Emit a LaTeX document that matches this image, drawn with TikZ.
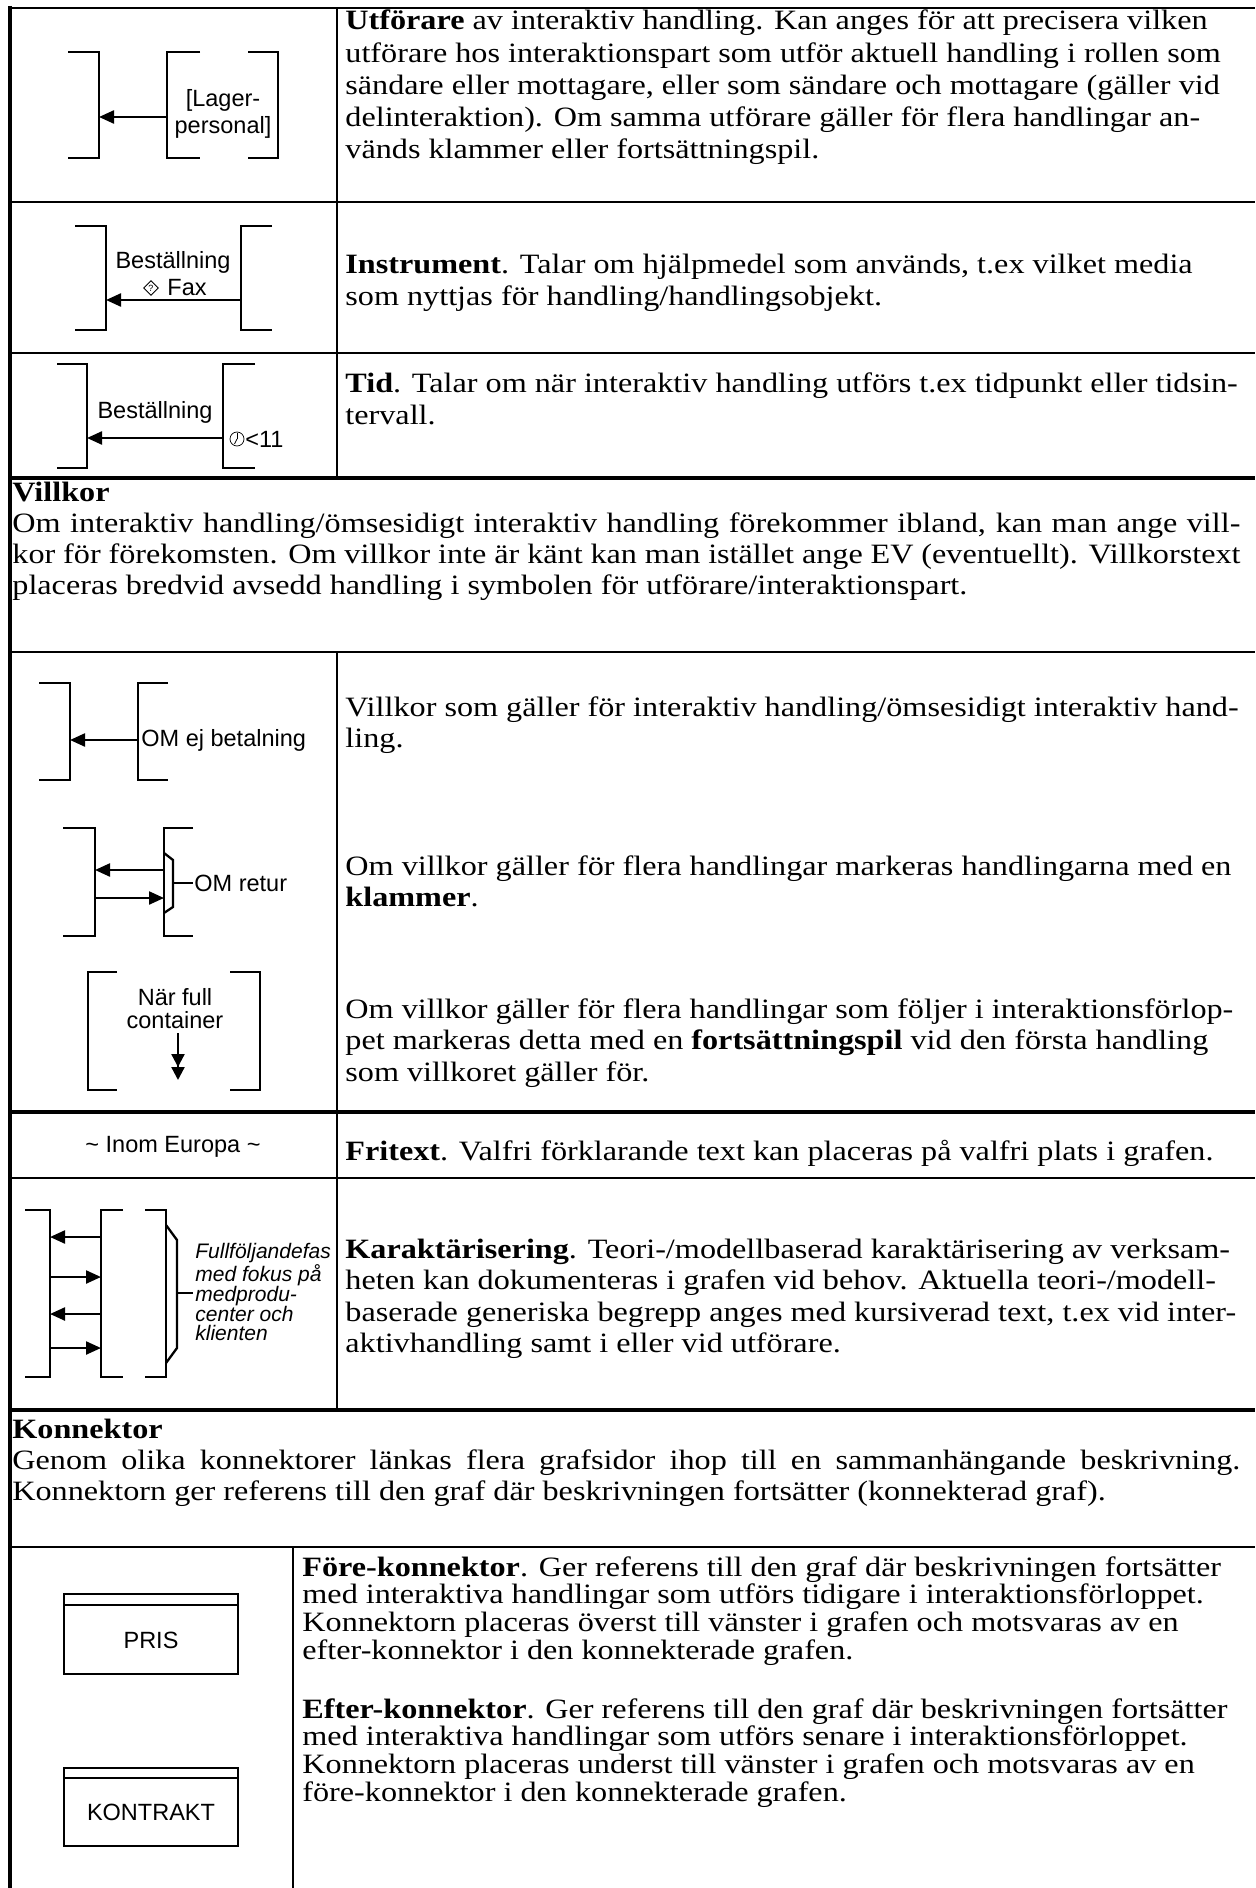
\documentclass[tikz,border=0pt]{standalone}
\usepackage{fontspec}
\setmainfont{Liberation Serif}[FakeStretch=1.15]
\setsansfont{Liberation Sans}
\usepackage{tikz}
\usetikzlibrary{arrows.meta}
\usetikzlibrary{shapes.geometric}
\newcommand{\rader}[1]{\begin{tabular}[t]{@{}l@{}}#1\end{tabular}}
\newcommand{\fylld}[1]{\makebox[614pt][s]{#1}}
\tikzstyle{grid}=[line width=0.8pt]
\tikzstyle{heavy}=[line width=2pt]
\tikzstyle{brk}=[line width=1.15pt]
\tikzstyle{arrow}=[brk,-{Triangle[length=7.5pt,width=6.5pt]}]
\tikzstyle{dblarrow}=[brk,-{Triangle[length=6.5pt,width=6.5pt]Triangle[length=6.5pt,width=6.5pt]}]
\tikzstyle{txt}=[inner sep=0,anchor=base west,font=\fontsize{14pt}{15.75pt}\selectfont]
\tikzstyle{head}=[txt,font=\fontsize{14pt}{15.5pt}\selectfont]
\tikzstyle{small}=[txt,font=\fontsize{14pt}{13.75pt}\selectfont]
\tikzstyle{lbl}=[inner sep=0,font=\sffamily\fontsize{11.75pt}{13pt}\selectfont]
\tikzstyle{konn}=[draw,line width=0.75pt]

\begin{document}
\begin{tikzpicture}[x=0.5pt,y=-0.5pt]
  \useasboundingbox (0,0) rectangle (1255,1888);
  % tabellramar
  \draw[heavy] (10,6) -- (10,1888);
  \draw[line width=1.3pt] (8,8) -- (1255,8);
  \draw[grid] (10,202) -- (1255,202);
  \draw[grid] (10,353) -- (1255,353);
  \draw[heavy] (8,478) -- (1255,478);
  \draw[grid] (10,652) -- (1255,652);
  \draw[heavy] (8,1112) -- (1255,1112);
  \draw[grid] (10,1178) -- (1255,1178);
  \draw[heavy] (8,1410) -- (1255,1410);
  \draw[grid] (10,1547) -- (1255,1547);
  \draw[grid] (337,8) -- (337,478);
  \draw[grid] (337,652) -- (337,1410);
  \draw[grid] (293,1547) -- (293,1888);

  % utfoerare
  \draw[brk] (68,52) -- (99,52) -- (99,158) -- (68,158);
  \draw[brk] (200,52) -- (167,52) -- (167,158) -- (200,158);
  \draw[brk] (248,52) -- (278,52) -- (278,158) -- (248,158);
  \coordinate (ut-s) at (167,117);
  \coordinate (ut-m) at (99,117);
  \draw[arrow] (ut-s) -- (ut-m);
  \node[lbl] (lager) at (223,100) {[Lager-};
  \node[lbl] (personal) at (223,127) {personal]};
  \node[txt,font=\fontsize{14pt}{16.1pt}\selectfont] (utforare) at (345,30) {\rader{\textbf{Utförare} av interaktiv handling. Kan anges för att precisera vilken\\
    utförare hos interaktionspart som utför aktuell handling i rollen som\\
    sändare eller mottagare, eller som sändare och mottagare (gäller vid\\
    delinteraktion). Om samma utförare gäller för flera handlingar an-\\
    vänds klammer eller fortsättningspil.}};

  % instrument
  \draw[brk] (75,226) -- (106,226) -- (106,330) -- (75,330);
  \draw[brk] (272,226) -- (241,226) -- (241,330) -- (272,330);
  \coordinate (in-s) at (241,300);
  \coordinate (in-m) at (106,300);
  \draw[arrow] (in-s) -- (in-m);
  \node[lbl] (best1) at (173,262) {Beställning};
  \node[diamond,draw,line width=0.45pt,inner sep=0,minimum size=7.5pt,
    font=\sffamily\fontsize{4.5pt}{5pt}\selectfont] (fraga) at (151,288) {?};
  \node[lbl] (fax) at (187,288) {Fax};
  \node[txt] (instrument) at (345,274) {\rader{\textbf{Instrument}. Talar om hjälpmedel som används, t.ex vilket media\\
    som nyttjas för handling/handlingsobjekt.}};

  % tid
  \draw[brk] (57,364) -- (87,364) -- (87,468) -- (57,468);
  \draw[brk] (255,364) -- (223,364) -- (223,468) -- (255,468);
  \coordinate (ti-s) at (223,438);
  \coordinate (ti-m) at (87,438);
  \draw[arrow] (ti-s) -- (ti-m);
  \node[lbl] (best2) at (155,412) {Beställning};
  \node[circle,draw,line width=0.35pt,minimum size=7pt,inner sep=0] (klocka) at (237,439) {};
  \draw[line width=0.35pt] (klocka.center) -- ++(0,-6);
  \draw[line width=0.35pt] (klocka.center) -- ++(-2.5,5);
  \node[lbl,anchor=west] (tidpunkt) at (245,439) {<11};
  \node[txt] (tid) at (345,393) {\rader{\textbf{Tid}. Talar om när interaktiv handling utförs t.ex tidpunkt eller tidsin-\\
    tervall.}};

  % villkor
  \node[head] (villkor) at (12,501) {\rader{\textbf{Villkor}\\
    \fylld{Om interaktiv handling/ömsesidigt interaktiv handling förekommer ibland, kan man ange vill-}\\
    \fylld{kor för förekomsten. Om villkor inte är känt kan man istället ange EV (eventuellt). Villkorstext}\\
    placeras bredvid avsedd handling i symbolen för utförare/interaktionspart.}};

  \draw[brk] (39,683) -- (70,683) -- (70,780) -- (39,780);
  \draw[brk] (168,683) -- (138,683) -- (138,780) -- (168,780);
  \coordinate (v1-s) at (138,740);
  \coordinate (v1-m) at (70,740);
  \draw[arrow] (v1-s) -- (v1-m);
  \node[lbl,anchor=west] (omej) at (141,740) {OM ej betalning};
  \node[txt] (villkor1) at (345,716) {\rader{Villkor som gäller för interaktiv handling/ömsesidigt interaktiv hand-\\
    ling.}};

  \draw[brk] (63,828) -- (95,828) -- (95,936) -- (63,936);
  \draw[brk] (193,828) -- (164,828) -- (164,936) -- (193,936);
  \draw[brk] (164,853) -- (173,860) -- (173,907) -- (164,913);
  \draw[brk] (173,883) -- (193,883);
  \coordinate (v2-a) at (164,870);
  \coordinate (v2-b) at (95,870);
  \coordinate (v2-c) at (95,898);
  \coordinate (v2-d) at (164,898);
  \draw[arrow] (v2-a) -- (v2-b);
  \draw[arrow] (v2-c) -- (v2-d);
  \node[lbl,anchor=west] (retur) at (194,883) {OM retur};
  \node[txt] (villkor2) at (345,875) {\rader{Om villkor gäller för flera handlingar markeras handlingarna med en\\
    \textbf{klammer}.}};

  \draw[brk] (117,972) -- (88,972) -- (88,1090) -- (117,1090);
  \draw[brk] (230,972) -- (260,972) -- (260,1090) -- (230,1090);
  \node[lbl] (nar) at (175,997) {När full};
  \node[lbl] (container) at (175,1020) {container};
  \coordinate (v3-a) at (178,1033);
  \coordinate (v3-b) at (178,1080);
  \draw[dblarrow] (v3-a) -- (v3-b);
  \node[txt] (villkor3) at (345,1018) {\rader{Om villkor gäller för flera handlingar som följer i interaktionsförlop-\\
    pet markeras detta med en \textbf{fortsättningspil} vid den första handling\\
    som villkoret gäller för.}};

  % fritext
  \node[lbl] (europa) at (173,1147) {\textasciitilde{} Inom Europa \textasciitilde};
  \node[txt] (fritext) at (345,1160) {\textbf{Fritext}. Valfri förklarande text kan placeras på valfri plats i grafen.};

  % karaktaerisering
  \draw[brk] (25,1210) -- (50,1210) -- (50,1377) -- (25,1377);
  \draw[brk] (123,1210) -- (101,1210) -- (101,1377) -- (123,1377);
  \draw[brk] (145,1210) -- (166,1210) -- (166,1377) -- (145,1377);
  \draw[brk] (166,1225) -- (177,1240) -- (177,1348) -- (166,1363);
  \draw[brk] (177,1293) -- (193,1293);
  \coordinate (ka-l1) at (50,1237);  \coordinate (ka-r1) at (101,1237);
  \coordinate (ka-l2) at (50,1277);  \coordinate (ka-r2) at (101,1277);
  \coordinate (ka-l3) at (50,1314);  \coordinate (ka-r3) at (101,1314);
  \coordinate (ka-l4) at (50,1348);  \coordinate (ka-r4) at (101,1348);
  \draw[arrow] (ka-r1) -- (ka-l1);
  \draw[arrow] (ka-l2) -- (ka-r2);
  \draw[arrow] (ka-r3) -- (ka-l3);
  \draw[arrow] (ka-l4) -- (ka-r4);
  \node[lbl,anchor=west,align=left,font=\sffamily\itshape\fontsize{10.5pt}{9.9pt}\selectfont]
    (fas) at (195,1292) {Fullföljandefas\\med fokus på\\medprodu-\\center och\\klienten};
  \node[txt] (karakt) at (345,1258) {\rader{\textbf{Karaktärisering}. Teori-/modellbaserad karaktärisering av verksam-\\
    heten kan dokumenteras i grafen vid behov. Aktuella teori-/modell-\\
    baserade generiska begrepp anges med kursiverad text, t.ex vid inter-\\
    aktivhandling samt i eller vid utförare.}};

  % konnektor
  \node[head] (konnektor) at (12,1438) {\rader{\textbf{Konnektor}\\
    \fylld{Genom olika konnektorer länkas flera grafsidor ihop till en sammanhängande beskrivning.}\\
    Konnektorn ger referens till den graf där beskrivningen fortsätter (konnekterad graf).}};

  \draw[konn] (64,1594) rectangle (238,1674);
  \draw[konn] (64,1605) -- (238,1605);
  \node[lbl] (pris) at (151,1640) {PRIS};
  \node[small] (fore) at (302,1576) {\rader{\textbf{Före-konnektor}. Ger referens till den graf där beskrivningen fortsätter\\
    med interaktiva handlingar som utförs tidigare i interaktionsförloppet.\\
    Konnektorn placeras överst till vänster i grafen och motsvaras av en\\
    efter-konnektor i den konnekterade grafen.}};

  \draw[konn] (64,1768) rectangle (238,1846);
  \draw[konn] (64,1778) -- (238,1778);
  \node[lbl] (kontrakt) at (151,1812) {KONTRAKT};
  \node[small] (efter) at (302,1718) {\rader{\textbf{Efter-konnektor}. Ger referens till den graf där beskrivningen fortsätter\\
    med interaktiva handlingar som utförs senare i interaktionsförloppet.\\
    Konnektorn placeras underst till vänster i grafen och motsvaras av en\\
    före-konnektor i den konnekterade grafen.}};
\end{tikzpicture}
\end{document}
